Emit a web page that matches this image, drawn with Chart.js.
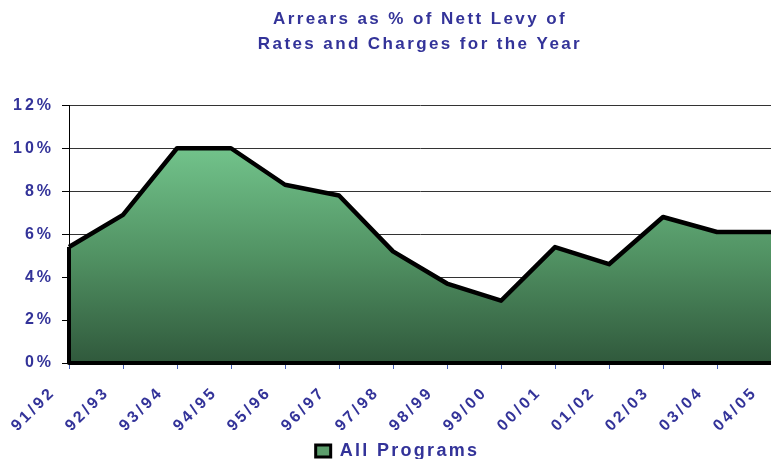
<!DOCTYPE html>
<html>
<head>
<meta charset="utf-8">
<script src="https://cdn.jsdelivr.net/npm/chart.js@4.4.1/dist/chart.umd.min.js"></script>
<style>
html,body{margin:0;padding:0;background:#fff;}
#wrap{width:771px;height:459px;}
</style>
</head>
<body>
<div id="wrap"><canvas id="c"></canvas></div>
<script>
const categories = ['91/92','92/93','93/94','94/95','95/96','96/97','97/98','98/99','99/00','00/01','01/02','02/03','03/04','04/05'];
const arrearsPct = [5.4, 6.9, 10.0, 10.0, 8.3, 7.8, 5.2, 3.7, 2.9, 5.4, 4.6, 6.8, 6.1, 6.1];
const yTickValues = [0, 2, 4, 6, 8, 10, 12];
const titleLines = ['Arrears as % of Nett Levy of', 'Rates and Charges for the Year'];
const seriesName = 'All Programs';

const TEXT = '#333399';
const FONT = "'Liberation Sans', Arial, sans-serif";

const spacingPlugin = {
  id: 'spacing',
  beforeUpdate(chart){ chart.ctx.letterSpacing = '3px'; },
  beforeLayout(chart){
    const lg = chart.legend;
    if (lg && !lg.__fitWrapped) {
      const f = lg.fit.bind(lg);
      lg.fit = function(){ const c = chart.ctx; c.save(); c.letterSpacing = '2.3px'; f(); c.restore(); this.height = 26; };
      lg.__fitWrapped = true;
    }
  },
  afterLayout(chart){
    const lg = chart.legend;
    if (lg) { lg.left += 12; lg.right += 12; lg.top += 5; lg.bottom += 5; }
  },
  beforeDraw(chart){
    chart.ctx.letterSpacing = '3px';
    const wrap = (box, sp) => {
      if (!box || box.__wrapped) return;
      const d = box.draw.bind(box);
      box.draw = function(a){ const c = chart.ctx; c.save(); c.letterSpacing = sp; d(a); c.restore(); };
      box.__wrapped = true;
    };
    wrap(chart.titleBlock, '2.4px');
    wrap(chart.legend, '2.3px');
  }
};

const outlinePlugin = {
  id: 'outline',
  afterDatasetsDraw(chart){
    const meta = chart.getDatasetMeta(0);
    const pts = meta.data;
    if (!pts.length) return;
    const y0 = chart.scales.y.getPixelForValue(0);
    const c = chart.ctx;
    c.save();
    c.strokeStyle = '#000';
    c.lineWidth = 4;
    c.lineJoin = 'round';
    c.beginPath();
    c.moveTo(pts[0].x, pts[0].y);
    c.lineTo(pts[0].x, y0);
    c.lineTo(pts[pts.length-1].x, y0);
    c.stroke();
    c.restore();
  }
};

new Chart(document.getElementById('c'), {
  type: 'line',
  data: {
    labels: categories,
    datasets: [{
      label: seriesName,
      data: arrearsPct,
      borderColor: '#000',
      borderWidth: 4.5,
      borderJoinStyle: 'round',
      pointRadius: 0,
      tension: 0,
      fill: 'origin',
      backgroundColor: (ctx) => {
        const chart = ctx.chart;
        const area = chart.chartArea;
        if (!area) return '#5a9f6b';
        const top = chart.scales.y.getPixelForValue(Math.max(...arrearsPct));
        const g = chart.ctx.createLinearGradient(0, top, 0, area.bottom);
        g.addColorStop(0, '#72c38b');
        g.addColorStop(0.5, '#519263');
        g.addColorStop(1, '#30593c');
        return g;
      }
    }]
  },
  options: {
    responsive: true,
    maintainAspectRatio: false,
    animation: false,
    devicePixelRatio: 1,
    layout: { padding: { left: 0, right: 0, top: 5, bottom: 0 } },
    plugins: {
      title: {
        display: true,
        text: titleLines,
        color: TEXT,
        font: { family: FONT, size: 17, weight: 'bold', lineHeight: 1.45 },
        padding: { top: 2, bottom: 49 },
        fullSize: false
      },
      legend: {
        display: true,
        position: 'bottom',
        labels: {
          color: TEXT,
          font: { family: FONT, size: 18, weight: 'bold' },
          boxWidth: 15,
          boxHeight: 12,
          padding: 4,
          generateLabels: () => [{
            text: seriesName,
            fillStyle: '#5c9e6c',
            strokeStyle: '#000',
            lineWidth: 3,
            hidden: false,
            datasetIndex: 0,
            fontColor: TEXT
          }]
        }
      },
      tooltip: { enabled: false }
    },
    scales: {
      x: {
        offset: false,
        afterFit: (s) => { s.height = 70; s.paddingRight = 0; s.paddingLeft = 0; },
        grid: { display: true, drawOnChartArea: false, drawTicks: true, tickLength: 6, tickColor: '#4a63b8', tickWidth: 1 },
        border: { display: false },
        ticks: {
          color: TEXT,
          font: { family: FONT, size: 16, weight: 'bold' },
          maxRotation: 45,
          minRotation: 45,
          autoSkip: false,
          labelOffset: -16,
          padding: 14
        }
      },
      y: {
        min: 0,
        max: 12,
        afterBuildTicks: (s) => { s.ticks = yTickValues.map(v => ({ value: v })); },
        afterFit: (s) => { s.width = 69; },
        grid: { color: '#333', lineWidth: 1, tickLength: 7, tickColor: '#000' },
        border: { display: true, color: '#000', width: 1 },
        ticks: {
          color: TEXT,
          font: { family: FONT, size: 16, weight: 'bold' },
          padding: 8,
          callback: (v) => v + '%'
        }
      }
    }
  },
  plugins: [spacingPlugin, outlinePlugin]
});
</script>
</body>
</html>
